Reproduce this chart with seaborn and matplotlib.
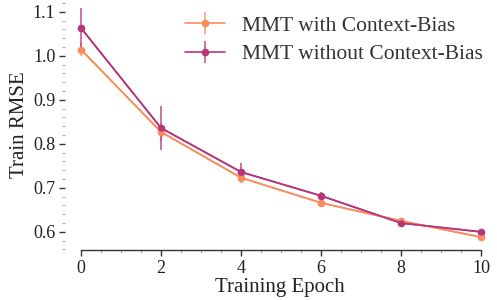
import numpy as np
import seaborn as sns
import matplotlib.pyplot as plt
from matplotlib.ticker import MultipleLocator

# values
epochs = [0, 2, 4, 6, 8, 10]
with_bias = [1.014, 0.827, 0.723, 0.666, 0.625, 0.588]
with_bias_err = [0.015, 0.020, 0.012, 0.010, 0.006, 0.005]
without_bias = [1.063, 0.836, 0.736, 0.682, 0.620, 0.600]
without_bias_err = [0.045, 0.050, 0.021, 0.008, 0.010, 0.004]
labels = ["MMT with Context-Bias", "MMT without Context-Bias"]

sns.set_theme(style="ticks")
plt.rcParams["font.family"] = ["Liberation Serif", "DejaVu Serif"]

colors = ["#F98C5C", "#B5367A"]

fig = plt.figure(figsize=(4.97, 3.0), dpi=100)
ax = fig.add_axes([0.131, 0.167, 0.865, 0.833])

for ys, es, c, lab in zip([with_bias, without_bias], [with_bias_err, without_bias_err], colors, labels):
	sns.lineplot(x=epochs, y=ys, ax=ax, color=c, lw=1.2, marker="o", markersize=4.5,
		markeredgewidth=0, legend=False)
	eb = ax.errorbar(epochs, ys, yerr=es, color=c, lw=1.2, marker="o", markersize=4.5,
		ecolor=c, elinewidth=1.3, capsize=0, label=lab, zorder=1)
	for coll in eb[2]:
		coll.set_alpha(0.75)

ax.set_xlim(-0.4, 10.35)
ax.set_ylim(0.559, 1.127)
ax.set_xticks(epochs)
ax.set_yticks([0.6, 0.7, 0.8, 0.9, 1.0, 1.1])
ax.xaxis.set_minor_locator(MultipleLocator(0.5))
ax.yaxis.set_minor_locator(MultipleLocator(0.02))
ax.tick_params(axis="both", which="major", labelsize=13, length=4, width=1, color="#333333",
	labelcolor="#222222", pad=3)
ax.tick_params(axis="both", which="minor", length=2.5, width=0.8, color="#aaaaaa")

sns.despine(ax=ax, trim=True)
ax.spines["left"].set_visible(False)
ax.spines["bottom"].set_color("#333333")
ax.spines["bottom"].set_linewidth(1)

ax.set_xlabel("Training Epoch", fontsize=15, labelpad=1, color="#222222")
ax.set_ylabel("Train RMSE", fontsize=15, labelpad=3, color="#222222")

leg = ax.legend(loc="upper right", bbox_to_anchor=(1.0, 0.985), frameon=False, fontsize=15.5,
	handlelength=1.85, handletextpad=0.8, borderaxespad=0.15, labelspacing=0.4)
for t in leg.get_texts():
	t.set_color("#333333")

plt.savefig("out.png", dpi=100)
